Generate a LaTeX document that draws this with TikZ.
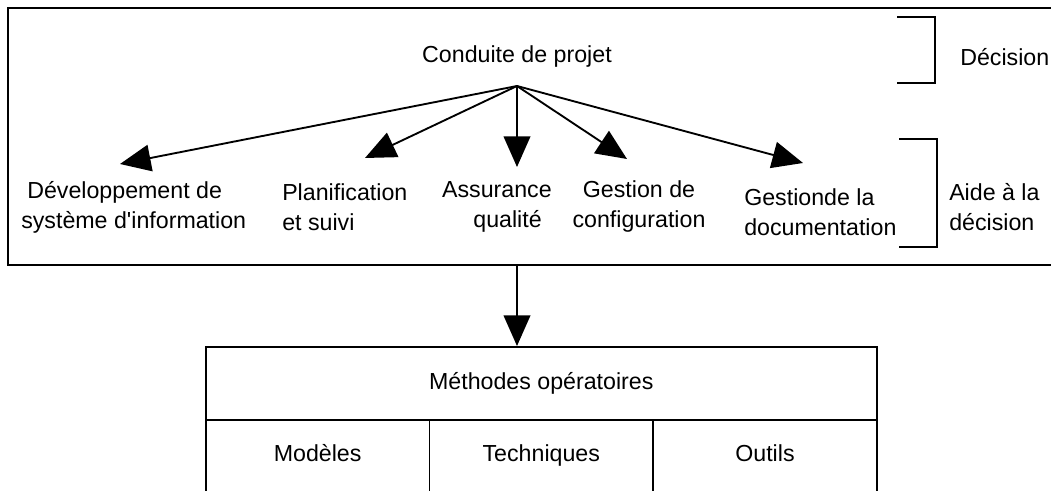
\documentclass[tikz,border=0pt]{standalone}
\usepackage{fontspec}
\setmainfont{Liberation Sans}
\usetikzlibrary{arrows.meta}
\begin{document}
\begin{tikzpicture}[x=0.75pt,y=-0.75pt,
  lbl/.style={font=\fontsize{17.4}{22.5}\selectfont, inner sep=0pt},
  arr/.style={line width=1.4pt, -{Triangle[length=23pt,width=20pt]}},
  frame/.style={line width=1.2pt},
  cell/.style={draw, line width=1.2pt, font=\fontsize{17.4}{22.5}\selectfont, inner sep=0pt, text height=12.5pt, text depth=3.7pt, anchor=north west}]
\useasboundingbox (0,0) rectangle (1051,491);
% top frame
\node[draw, frame, anchor=north west, minimum width=795pt, minimum height=192.75pt, inner sep=0pt] (topbox) at (7,7) {};
% labels
\node[lbl] (conduite) at (517,57) {Conduite de projet};
\coordinate (o) at (517,86);
\node[lbl, align=left, anchor=west] (dev) at (21,207) {\hspace*{4.5pt}Développement de\\système d\textquotesingle information};
\node[lbl, align=left, anchor=west] (plan) at (282,207) {Planification\\et suivi};
\node[lbl, align=right, anchor=east] (qual) at (552,207) {Assurance\\qualité\hspace*{7.5pt}};
\node[lbl, align=center] (conf) at (639,207) {Gestion de\\configuration};
\node[lbl, align=left, anchor=west] (doc) at (744,212) {Gestionde la\\documentation};
\node[lbl, anchor=west] (dec) at (960,57) {Décision};
\node[lbl, align=left, anchor=west] (aide) at (949,207) {Aide à la\\décision};
% arrow tips
\coordinate (t1) at (120,164);
\coordinate (t2) at (365,158);
\coordinate (t3) at (517,167);
\coordinate (t4) at (627,159);
\coordinate (t5) at (803,163);
\foreach \t in {t1,t2,t3,t4,t5} \draw[arr] (o) -- (\t);
% brackets
\draw[frame] (897,17) -- (935,17) -- (935,83) -- (897,83);
\draw[frame] (899,139) -- (937,139) -- (937,247) -- (899,247);
% bottom box
\node[cell, minimum width=503.25pt, minimum height=54.75pt] (meth) at (205,346) {Méthodes opératoires};
\node[cell, minimum width=167.75pt, minimum height=54.4pt] (mod) at (205,419) {Modèles};
\node[cell, minimum width=167.75pt, minimum height=54.4pt] (tech) at (428.67,419) {Techniques};
\node[cell, minimum width=167.75pt, minimum height=54.4pt] (out) at (652.33,419) {Outils};
\draw[arr] (topbox.south -| conduite) -- (meth.north -| conduite);
\end{tikzpicture}
\end{document}
